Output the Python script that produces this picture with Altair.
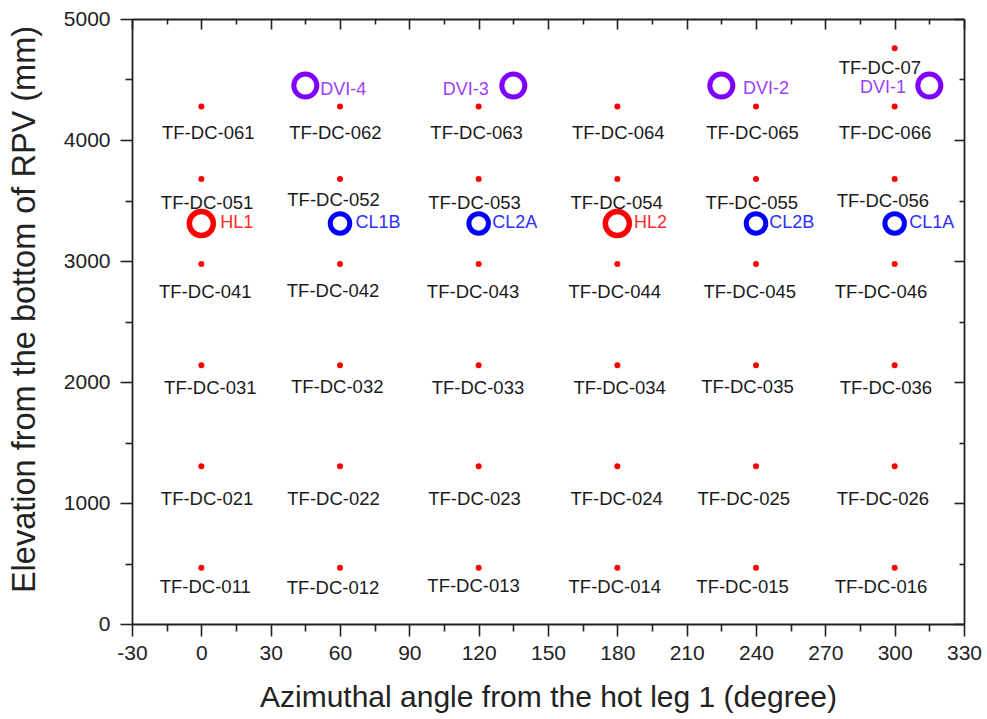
import altair as alt
import pandas as pd

# ---------------- data ----------------
sensor_names = [
    "TF-DC-011", "TF-DC-012", "TF-DC-013", "TF-DC-014", "TF-DC-015", "TF-DC-016",
    "TF-DC-021", "TF-DC-022", "TF-DC-023", "TF-DC-024", "TF-DC-025", "TF-DC-026",
    "TF-DC-031", "TF-DC-032", "TF-DC-033", "TF-DC-034", "TF-DC-035", "TF-DC-036",
    "TF-DC-041", "TF-DC-042", "TF-DC-043", "TF-DC-044", "TF-DC-045", "TF-DC-046",
    "TF-DC-051", "TF-DC-052", "TF-DC-053", "TF-DC-054", "TF-DC-055", "TF-DC-056",
    "TF-DC-061", "TF-DC-062", "TF-DC-063", "TF-DC-064", "TF-DC-065", "TF-DC-066",
    "TF-DC-07",
]
sensor_angle = [
    0, 60, 120, 180, 240, 300,
    0, 60, 120, 180, 240, 300,
    0, 60, 120, 180, 240, 300,
    0, 60, 120, 180, 240, 300,
    0, 60, 120, 180, 240, 300,
    0, 60, 120, 180, 240, 300,
    300,
]
sensor_elev = [
    465, 465, 465, 465, 465, 465,
    1303, 1303, 1303, 1303, 1303, 1303,
    2138, 2138, 2138, 2138, 2138, 2138,
    2975, 2975, 2975, 2975, 2975, 2975,
    3678, 3678, 3678, 3678, 3678, 3678,
    4277, 4277, 4277, 4277, 4277, 4277,
    4758,
]
# where each sensor's name is written (data units)
label_angle = [
    1.7, 57.0, 117.8, 178.9, 234.2, 294.1,
    2.5, 57.2, 118.2, 179.7, 234.7, 294.9,
    3.9, 58.8, 119.7, 181.0, 236.3, 296.2,
    1.7, 57.0, 117.6, 178.9, 237.3, 294.1,
    2.5, 57.2, 118.2, 179.7, 238.2, 294.9,
    3.0, 58.0, 119.1, 180.4, 238.5, 295.8,
    293.6,
]
label_elev = [
    306, 300, 316, 303, 306, 306,
    1030, 1030, 1030, 1030, 1030, 1030,
    1954, 1960, 1954, 1954, 1960, 1954,
    2742, 2753, 2742, 2742, 2742, 2742,
    3477, 3502, 3477, 3477, 3477, 3494,
    4056, 4056, 4056, 4056, 4056, 4056,
    4593,
]

port_names = ["HL1", "CL1B", "CL2A", "HL2", "CL2B", "CL1A"]
port_type = ["HL", "CL", "CL", "HL", "CL", "CL"]
port_angle = [0, 60, 120, 180, 240, 300]
port_elev = [3310, 3310, 3310, 3310, 3310, 3310]
port_label_angle = [8.2, 66.7, 125.9, 187.2, 245.7, 306.3]
port_label_elev = [3313, 3313, 3313, 3313, 3313, 3313]

dvi_names = ["DVI-4", "DVI-3", "DVI-2", "DVI-1"]
dvi_angle = [45, 135, 225, 315]
dvi_elev = [4450, 4450, 4450, 4450]
dvi_label_angle = [51.5, 124.4, 234.4, 304.9]
dvi_label_elev = [4411, 4411, 4418, 4428]
dvi_label_side = ["left", "right", "left", "right"]

x_major = [-30, 0, 30, 60, 90, 120, 150, 180, 210, 240, 270, 300, 330]
x_minor = [-15, 15, 45, 75, 105, 135, 165, 195, 225, 255, 285, 315]
y_major = [0, 1000, 2000, 3000, 4000, 5000]
y_minor = [500, 1500, 2500, 3500, 4500]

# ---------------- tables ----------------
sensors = pd.DataFrame({
    "name": sensor_names, "angle": sensor_angle, "elev": sensor_elev,
    "la": label_angle, "le": label_elev,
})
ports = pd.DataFrame({
    "name": port_names, "type": port_type, "angle": port_angle, "elev": port_elev,
    "la": port_label_angle, "le": port_label_elev,
})
dvis = pd.DataFrame({
    "name": dvi_names, "angle": dvi_angle, "elev": dvi_elev,
    "la": dvi_label_angle, "le": dvi_label_elev, "side": dvi_label_side,
})

W, H = 832, 605
FONT = "Liberation Sans"
INK = "#222222"

xs = alt.Scale(domain=[-30, 330], nice=False, zero=False)
ys = alt.Scale(domain=[0, 5000], nice=False, zero=False)

common = dict(grid=False, tickColor=INK, tickWidth=1.6, domainColor=INK, domainWidth=1.8)

ax_x_main = alt.Axis(orient="bottom", values=x_major, tickSize=12, labelFontSize=21,
                     labelFont=FONT, labelColor=INK, labelPadding=6, labelFlush=False,
                     labelOverlap=False, labelExpr="'' + datum.value",
                     title="Azimuthal angle from the hot leg 1 (degree)",
                     titleFont=FONT, titleFontSize=30, titleFontWeight="normal",
                     titleColor=INK, titlePadding=19, **common)
ax_x_minor = alt.Axis(orient="bottom", values=x_minor, tickSize=7, labels=False,
                      domain=False, title=None, **common)
ax_x_top = alt.Axis(orient="bottom", offset=-H, values=x_major, tickSize=10, labels=False,
                    title=None, **common)
ax_x_top_minor = alt.Axis(orient="bottom", offset=-H, values=x_minor, tickSize=5,
                          labels=False, domain=False, title=None, **common)

ax_y_main = alt.Axis(orient="left", values=y_major, tickSize=12, labelFontSize=21,
                     labelFont=FONT, labelColor=INK, labelPadding=10, labelFlush=False,
                     labelOverlap=False, labelExpr="'' + datum.value",
                     title="Elevation from the bottom of RPV (mm)",
                     titleFont=FONT, titleFontSize=32.5, titleFontWeight="normal",
                     titleColor=INK, titlePadding=22, titleY=290, **common)
ax_y_minor = alt.Axis(orient="left", values=y_minor, tickSize=7, labels=False,
                      domain=False, title=None, **common)
ax_y_right = alt.Axis(orient="left", offset=-W, values=y_major, tickSize=10, labels=False,
                      title=None, **common)
ax_y_right_minor = alt.Axis(orient="left", offset=-W, values=y_minor, tickSize=5,
                            labels=False, domain=False, title=None, **common)


def X(field, axis):
    return alt.X(f"{field}:Q", scale=xs, axis=axis)


def Y(field, axis):
    return alt.Y(f"{field}:Q", scale=ys, axis=axis)


dots = alt.Chart(sensors).mark_circle(size=36, color="#ff0000", opacity=1).encode(
    x=X("angle", ax_x_main), y=Y("elev", ax_y_main))

sensor_text = alt.Chart(sensors).mark_text(
    font=FONT, fontSize=18.5, color="#1a1a1a", align="center", baseline="middle"
).encode(x=X("la", ax_x_minor), y=Y("le", ax_y_minor), text="name:N")

hl = alt.Chart(ports).transform_filter(alt.datum.type == "HL").mark_point(
    shape="circle", filled=False, size=576, strokeWidth=5.5, color="#ff0000", opacity=1
).encode(x=X("angle", ax_x_top), y=Y("elev", ax_y_right))

cl = alt.Chart(ports).transform_filter(alt.datum.type == "CL").mark_point(
    shape="circle", filled=False, size=380, strokeWidth=5, color="#0000ff", opacity=1
).encode(x=X("angle", ax_x_top_minor), y=Y("elev", ax_y_right_minor))

hl_text = alt.Chart(ports).transform_filter(alt.datum.type == "HL").mark_text(
    font=FONT, fontSize=18, color="#ff2a2a", align="left", baseline="middle"
).encode(x=X("la", None), y=Y("le", None), text="name:N")

cl_text = alt.Chart(ports).transform_filter(alt.datum.type == "CL").mark_text(
    font=FONT, fontSize=18, color="#2f2fff", align="left", baseline="middle"
).encode(x=X("la", None), y=Y("le", None), text="name:N")

dvi = alt.Chart(dvis).mark_point(
    shape="circle", filled=False, size=530, strokeWidth=5, color="#8000ff", opacity=1
).encode(x=X("angle", None), y=Y("elev", None))

dvi_text_l = alt.Chart(dvis).transform_filter(alt.datum.side == "left").mark_text(
    font=FONT, fontSize=18, color="#9a40ff", align="left", baseline="middle"
).encode(x=X("la", None), y=Y("le", None), text="name:N")

dvi_text_r = alt.Chart(dvis).transform_filter(alt.datum.side == "right").mark_text(
    font=FONT, fontSize=18, color="#9a40ff", align="right", baseline="middle"
).encode(x=X("la", None), y=Y("le", None), text="name:N")

chart = alt.layer(
    dots, sensor_text, hl, cl, hl_text, cl_text, dvi, dvi_text_l, dvi_text_r
).resolve_axis(x="independent", y="independent").properties(
    width=W, height=H,
    autosize=alt.AutoSizeParams(type="none"),
    padding={"left": 132, "top": 19, "right": 23, "bottom": 95},
    background="white",
).configure_view(stroke=None)

chart.save("out.html", embed_options={"renderer": "svg", "actions": False})
